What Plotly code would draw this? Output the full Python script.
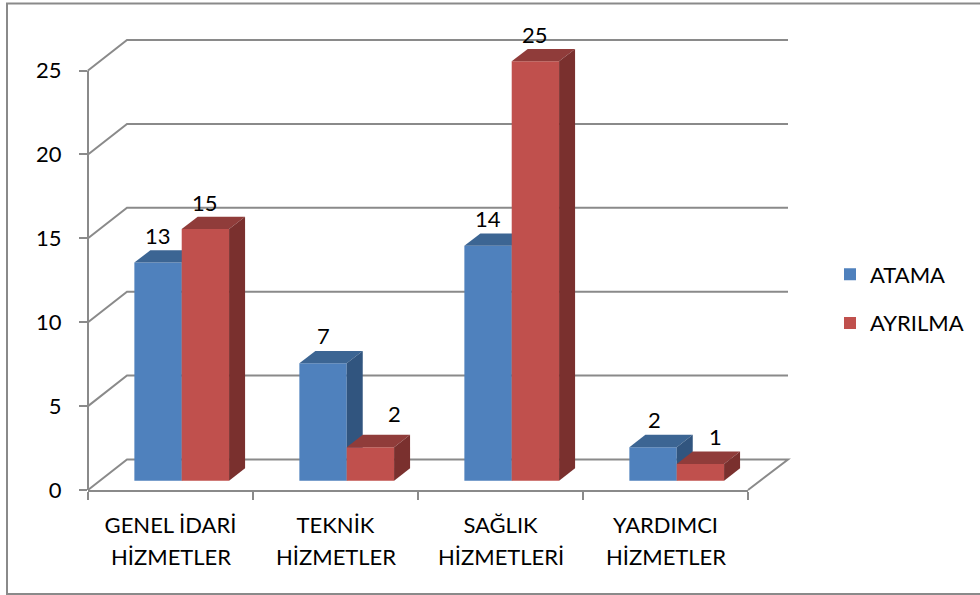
import plotly.graph_objects as go

# dados do gráfico
linha1 = ['GENEL İDARİ', 'TEKNİK', 'SAĞLIK', 'YARDIMCI']
linha2 = ['HİZMETLER', 'HİZMETLER', 'HİZMETLERİ', 'HİZMETLER']
atama = [13, 7, 14, 2]
ayrilma = [15, 2, 25, 1]
y_ticks = [0, 5, 10, 15, 20, 25]

# deslocamento manual dos rótulos (px), igual ao gráfico original
nudge_atama = [(0, 0), (0, 1), (0, 0), (1, 1)]
nudge_ayrilma = [(0, 0), (24, 7), (0, 0), (15, 0)]

AZUL, AZUL_TOPO, AZUL_LADO = '#4F81BD', '#3C6593', '#31557F'
VERM, VERM_TOPO, VERM_LADO = '#C0504D', '#903C3A', '#7A302E'
CINZA = '#8A8A8A'
FONTE = 'Lato'

# área do plot em px (o eixo y vai além do 25 para caber o topo da barra)
ESQ, LARG, CHAO = 88, 660, 490
Y_MAX = 27
ALT = 16.76 * Y_MAX
TOPO = CHAO - ALT

# profundidade falsa das barras, em unidades dos eixos
BASE = 0.555
PROF_X = 0.097
PROF_Y = 0.734
LARGURA = 0.287
DESLOC = 0.068


def caixa(x0, x1, valor):
    topo_x = [x0, x0 + PROF_X, x1 + PROF_X, x1, x0]
    topo_y = [valor + BASE, valor + BASE + PROF_Y, valor + BASE + PROF_Y, valor + BASE, valor + BASE]
    lado_x = [x1, x1 + PROF_X, x1 + PROF_X, x1, x1]
    lado_y = [BASE, BASE + PROF_Y, valor + BASE + PROF_Y, valor + BASE, BASE]
    return topo_x, topo_y, lado_x, lado_y


def faces(fig, x0s, valores, cor_topo, cor_lado, xa, ya):
    for x0, v in zip(x0s, valores):
        tx, ty, lx, ly = caixa(x0, x0 + LARGURA, v)
        for xs, ys, cor in [(tx, ty, cor_topo), (lx, ly, cor_lado)]:
            fig.add_trace(go.Scatter(x=xs, y=ys, mode='lines', fill='toself', fillcolor=cor,
                                     line=dict(width=0), hoverinfo='skip', showlegend=False,
                                     cliponaxis=False, xaxis=xa, yaxis=ya))


x_cat = list(range(len(linha1)))
x_azul = [i + DESLOC - LARGURA for i in x_cat]
x_verm = [i + DESLOC for i in x_cat]

fig = go.Figure()

# azul primeiro, vermelho num eixo sobreposto para cobrir o lado do azul
fig.add_trace(go.Bar(x=x_cat, y=atama, base=BASE, width=LARGURA, offset=DESLOC - LARGURA, name='ATAMA',
                     marker=dict(color=AZUL, line=dict(width=0)), cliponaxis=False, legendgroup='a'))
faces(fig, x_azul, atama, AZUL_TOPO, AZUL_LADO, 'x', 'y')
fig.add_trace(go.Bar(x=x_cat, y=ayrilma, base=BASE, width=LARGURA, offset=DESLOC, name='AYRILMA',
                     marker=dict(color=VERM, line=dict(width=0)), cliponaxis=False, legendgroup='b',
                     xaxis='x2', yaxis='y2'))
faces(fig, x_verm, ayrilma, VERM_TOPO, VERM_LADO, 'x2', 'y2')


# paredes do fundo, em coordenadas paper para não serem cortadas
def px_x(p):
    return (p - ESQ) / LARG


def px_y(p):
    return (CHAO - p) / ALT


PAREDE_X = px_x(127)
PAREDE_Y = 30.5 / ALT
FIM_X = px_x(788)

shapes = []
for v in y_ticks:
    yp = v / Y_MAX
    caminho = f'M 0 {yp} L {PAREDE_X} {yp + PAREDE_Y} L {FIM_X} {yp + PAREDE_Y}'
    if v == 0:
        caminho += ' L 1 0'
    shapes.append(dict(type='path', xref='paper', yref='paper', path=caminho, layer='below',
                       line=dict(color=CINZA, width=2)))
# linha do eixo y só até o 25
shapes.append(dict(type='line', xref='paper', yref='paper', x0=0, x1=0, y0=0, y1=y_ticks[-1] / Y_MAX,
                   layer='below', line=dict(color=CINZA, width=2)))
# moldura
shapes.append(dict(type='rect', xref='paper', yref='paper', x0=px_x(7), x1=px_x(990), y0=px_y(594), y1=px_y(4),
                   layer='below', line=dict(color=CINZA, width=2)))

anot = []
for i, v in enumerate(atama):
    anot.append(dict(x=x_azul[i] + LARGURA / 2, y=v + BASE, text=str(v), showarrow=False, yanchor='middle',
                     xshift=nudge_atama[i][0], yshift=27 + nudge_atama[i][1]))
for i, v in enumerate(ayrilma):
    anot.append(dict(x=x_verm[i] + LARGURA / 2, y=v + BASE, text=str(v), showarrow=False, yanchor='middle',
                     xshift=nudge_ayrilma[i][0], yshift=27 + nudge_ayrilma[i][1]))
for i, t in enumerate(linha2):
    anot.append(dict(x=i, y=0, text=t, showarrow=False, yanchor='middle', yshift=-66))

eixo_x = dict(range=[-0.5, 3.5], showgrid=False, zeroline=False, showline=True, linecolor=CINZA, linewidth=2,
              tickvals=x_cat, ticktext=linha1, ticks='', ticklabelstandoff=15,
              minor=dict(tickvals=[-0.5, 0.5, 1.5, 2.5, 3.5], ticks='outside', ticklen=8, tickwidth=2, tickcolor=CINZA))
eixo_y = dict(range=[0, Y_MAX], tickvals=y_ticks, showgrid=False, zeroline=False, showline=False,
              ticks='outside', ticklen=8, tickwidth=2, tickcolor=CINZA, ticklabelstandoff=13)

fig.update_layout(
    width=980, height=595,
    margin=dict(l=ESQ, r=980 - ESQ - LARG, t=TOPO, b=595 - CHAO, pad=0),
    plot_bgcolor='white', paper_bgcolor='white',
    font=dict(family=FONTE, size=22, color='black'),
    xaxis=eixo_x, yaxis=eixo_y,
    xaxis2=dict(range=[-0.5, 3.5], overlaying='x', visible=False),
    yaxis2=dict(range=[0, Y_MAX], overlaying='y', visible=False),
    shapes=shapes, annotations=anot,
    # legenda presa ao container para não empurrar a margem direita
    legend=dict(xref='container', yref='container', x=830 / 980, y=(595 - 299) / 595, xanchor='left',
                yanchor='middle', tracegroupgap=17, traceorder='grouped', bgcolor='rgba(0,0,0,0)'),
    showlegend=True,
)

# tira a margem padrão do body, senão a moldura fica cortada
fig.write_html("out.html", config={'displayModeBar': False}, post_script="document.body.style.margin='0';")
